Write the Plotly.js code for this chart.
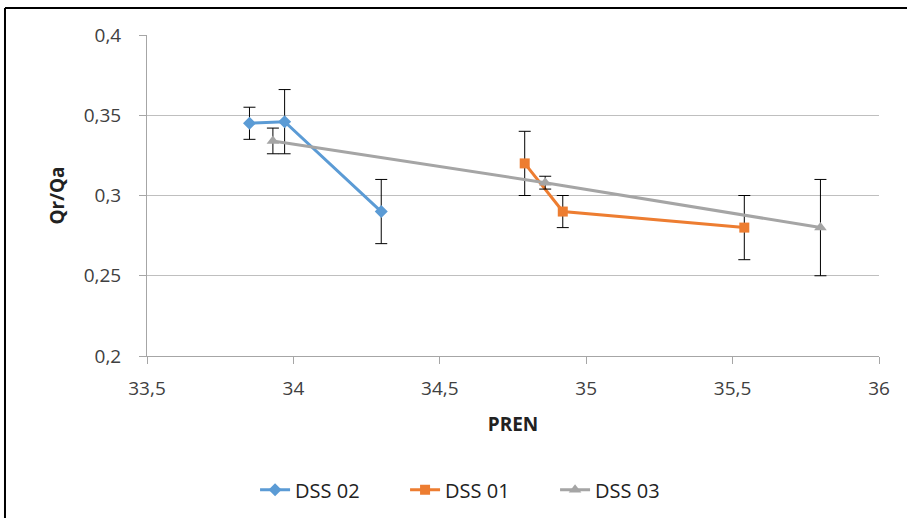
<!DOCTYPE html>
<html>
<head>
<meta charset="utf-8">
<script src="https://cdn.plot.ly/plotly-3.0.1.min.js"></script>
<style>html,body{margin:0;padding:0;background:#fff;}#chart{width:907px;height:518px;}</style>
</head>
<body>
<div id="chart"></div>
<script>
const dss02_x = [33.85, 33.97, 34.30];
const dss02_y = [0.345, 0.346, 0.290];
const dss02_err = [0.010, 0.020, 0.020];

const dss01_x = [34.79, 34.92, 35.54];
const dss01_y = [0.320, 0.290, 0.280];
const dss01_err = [0.020, 0.010, 0.020];

const dss03_x = [33.93, 34.86, 35.80];
const dss03_y = [0.334, 0.308, 0.280];
const dss03_err = [0.008, 0.004, 0.030];

const xTicks = [33.5, 34, 34.5, 35, 35.5, 36];
const yTicks = [0.2, 0.25, 0.3, 0.35, 0.4];

function errObj(arr){
  return {type:'data', array:arr, visible:true, color:'#000', thickness:1, width:6};
}

const traces = [
  {x:dss02_x, y:dss02_y, name:'DSS 02', mode:'lines+markers', error_y:errObj(dss02_err),
   line:{color:'#5b9bd5', width:3}, marker:{symbol:'diamond', size:10, color:'#5b9bd5'}},
  {x:dss01_x, y:dss01_y, name:'DSS 01', mode:'lines+markers', error_y:errObj(dss01_err),
   line:{color:'#ed7d31', width:3}, marker:{symbol:'square', size:10, color:'#ed7d31'}},
  {x:dss03_x, y:dss03_y, name:'DSS 03', mode:'lines+markers', error_y:errObj(dss03_err),
   line:{color:'#a5a5a5', width:3}, marker:{symbol:'triangle-up', size:11, color:'#a5a5a5'}}
];

const layout = {
  width:907, height:518,
  margin:{l:147, r:28, t:35, b:162, autoexpand:false},
  separators:', ',
  paper_bgcolor:'#fff', plot_bgcolor:'#fff',
  font:{family:'Open Sans, Liberation Sans, sans-serif', size:19, color:'#404040'},
  showlegend:true,
  legend:{orientation:'h', x:0.455, xanchor:'center', y:-0.417, yanchor:'middle',
          entrywidth:105, entrywidthmode:'pixels',
          font:{size:20, color:'#222'}},
  xaxis:{range:[33.5,36], tickvals:xTicks, ticktext:xTicks.map(v=>String(v).replace('.',',')),
         showgrid:false, zeroline:false, showline:true, linecolor:'#a6a6a6', linewidth:1,
         ticks:'outside', ticklen:7, tickcolor:'#a6a6a6', ticklabelstandoff:8,
         tickfont:{size:19, color:'#404040'},
         title:{text:'<b>PREN</b>', font:{size:19, color:'#222'}, standoff:17}},
  yaxis:{range:[0.2,0.4], tickvals:yTicks, ticktext:yTicks.map(v=>String(v).replace('.',',')),
         showgrid:true, gridcolor:'#bfbfbf', gridwidth:1, zeroline:false,
         showline:true, linecolor:'#a6a6a6', linewidth:1,
         ticks:'outside', ticklen:7, tickcolor:'#a6a6a6', ticklabelstandoff:14,
         tickfont:{size:19, color:'#404040'},
         title:{text:'<b>Qr/Qa</b>', font:{size:19, color:'#222'}, standoff:14}},
  shapes:[
    {type:'line', xref:'paper', yref:'paper', x0:-0.194, x1:1.2, y0:1.084, y1:1.084, line:{color:'#000', width:2}},
    {type:'line', xref:'paper', yref:'paper', x0:-0.194, x1:-0.194, y0:1.084, y1:-0.6, line:{color:'#000', width:2}}
  ]
};

Plotly.newPlot('chart', traces, layout, {displayModeBar:false, staticPlot:true});
</script>
</body>
</html>
